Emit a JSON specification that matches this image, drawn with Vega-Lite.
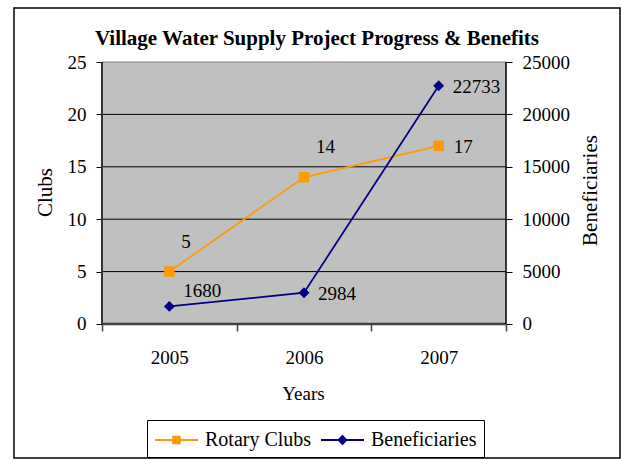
{
  "$schema": "https://vega.github.io/schema/vega-lite/v6.json",
  "width": 606,
  "height": 450,
  "autosize": {"type": "none"},
  "padding": {"left": 14, "top": 8, "right": 3, "bottom": 2},
  "background": "white",
  "config": {
    "font": "Liberation Serif",
    "view": {"stroke": "black", "strokeWidth": 1.5},
    "axis": {
      "labelFont": "Liberation Serif",
      "labelFontSize": 19,
      "labelColor": "black",
      "titleFont": "Liberation Serif",
      "titleFontSize": 21,
      "titleFontWeight": "normal",
      "titleColor": "black"
    },
    "legend": {"labelFont": "Liberation Serif"},
    "text": {"font": "Liberation Serif", "fontSize": 19, "color": "black"}
  },
  "title": {
    "text": "Village Water Supply Project Progress & Benefits",
    "anchor": "middle",
    "frame": "group",
    "offset": -58,
    "baseline": "alphabetic",
    "font": "Liberation Serif",
    "fontSize": 21,
    "fontWeight": "bold",
    "color": "black"
  },
  "datasets": {
    "series": [
      {"year": 2005, "series": "Rotary Clubs", "value": 5},
      {"year": 2006, "series": "Rotary Clubs", "value": 14},
      {"year": 2007, "series": "Rotary Clubs", "value": 17},
      {"year": 2005, "series": "Beneficiaries", "value": 1680},
      {"year": 2006, "series": "Beneficiaries", "value": 2984},
      {"year": 2007, "series": "Beneficiaries", "value": 22733}
    ],
    "grid": [{"g": 5}, {"g": 10}, {"g": 15}, {"g": 20}],
    "one": [{"k": 0}]
  },
  "layer": [
    {
      "layer": [
        {
          "data": {"name": "one"},
          "mark": {"type": "rect", "fill": "#C0C0C0"},
          "encoding": {
            "x": {
              "datum": 2004.5, "type": "quantitative",
              "scale": {"domain": [2003.8465, 2008.3465], "nice": false, "zero": false},
              "axis": {
                "orient": "bottom", "offset": -134,
                "values": [2004.5, 2005.5, 2006.5, 2007.5],
                "labelExpr": "datum.value < 2007 ? '' + (datum.value + 0.5) : ''",
                "labelOffset": 67.33, "labelFlush": false, "labelOverlap": false, "labelBound": false,
                "tickSize": 7, "tickColor": "#404040", "tickWidth": 1.5,
                "domain": false, "grid": false, "labelPadding": 17,
                "title": "Years", "titleFontSize": 19, "titleX": 289, "titleY": 69, "titleBaseline": "middle"
              }
            },
            "x2": {"datum": 2007.5},
            "y": {
              "datum": 0, "type": "quantitative",
              "scale": {"domain": [-12.7863, 30.1527], "nice": false, "zero": false},
              "axis": {
                "orient": "left", "offset": -88,
                "values": [0, 5, 10, 15, 20, 25],
                "domain": false, "grid": false,
                "tickSize": 6, "tickColor": "black", "tickWidth": 1,
                "labelPadding": 10, "labelFlush": false, "labelOverlap": false,
                "title": "Clubs", "titleX": -57, "titleY": 184, "titleBaseline": "middle", "titleAngle": -90
              }
            },
            "y2": {"datum": 25}
          }
        },
        {
          "data": {"name": "grid"},
          "mark": {"type": "rule", "color": "black", "strokeWidth": 1},
          "encoding": {
            "y": {"field": "g", "type": "quantitative"},
            "x": {"datum": 2004.5, "type": "quantitative"},
            "x2": {"datum": 2007.5}
          }
        },
        {
          "data": {"name": "one"},
          "mark": {"type": "rule", "color": "#808080", "strokeWidth": 1},
          "encoding": {
            "y": {"datum": 25, "type": "quantitative"},
            "x": {"datum": 2004.5, "type": "quantitative"},
            "x2": {"datum": 2007.5}
          }
        },
        {
          "data": {"name": "one"},
          "mark": {"type": "rule", "color": "#404040", "strokeWidth": 2.5},
          "encoding": {
            "y": {"datum": 0, "type": "quantitative"},
            "x": {"datum": 2004.5, "type": "quantitative"},
            "x2": {"datum": 2007.5}
          }
        },
        {
          "data": {"name": "one"},
          "mark": {"type": "rule", "color": "#333333", "strokeWidth": 2},
          "encoding": {
            "x": {"datum": 2004.5, "type": "quantitative"},
            "y": {"datum": 0, "type": "quantitative"},
            "y2": {"datum": 25}
          }
        },
        {
          "data": {"name": "one"},
          "mark": {"type": "rule", "color": "black", "strokeWidth": 1.5},
          "encoding": {
            "x": {"datum": 2007.5, "type": "quantitative"},
            "y": {"datum": 0, "type": "quantitative"},
            "y2": {"datum": 25}
          }
        },
        {
          "data": {"name": "series"},
          "transform": [{"filter": "datum.series === 'Rotary Clubs'"}],
          "mark": {"type": "line", "strokeWidth": 1.75},
          "encoding": {
            "x": {"field": "year", "type": "quantitative"},
            "y": {"field": "value", "type": "quantitative"},
            "color": {
              "field": "series", "type": "nominal",
              "scale": {"domain": ["Rotary Clubs", "Beneficiaries"], "range": ["#FF9900", "#000080"]},
              "legend": {
                "orient": "none", "legendX": 133, "legendY": 412,
                "direction": "horizontal", "title": null,
                "padding": 7, "strokeColor": "black", "fillColor": "white",
                "labelFont": "Liberation Serif", "labelFontSize": 20, "labelColor": "black",
                "labelOffset": 25, "columnPadding": 5, "symbolSize": 576, "labelLimit": 300,
                "encode": {
                  "symbols": {
                    "update": {
                      "shape": {"signal": "datum.value === 'Rotary Clubs' ? 'M-1,0L2.583,0M0.52,-0.27L1.06,-0.27L1.06,0.27L0.52,0.27Z' : 'M-1,0L2.583,0M0.79,-0.32L1.11,0L0.79,0.32L0.47,0Z'"},
                      "fill": {"signal": "datum.value === 'Rotary Clubs' ? '#FF9900' : '#000080'"},
                      "stroke": {"signal": "datum.value === 'Rotary Clubs' ? '#FF9900' : '#000080'"},
                      "strokeWidth": {"value": 2},
                      "opacity": {"value": 1}
                    }
                  }
                }
              }
            }
          }
        },
        {
          "data": {"name": "series"},
          "transform": [{"filter": "datum.series === 'Rotary Clubs'"}],
          "mark": {"type": "point", "filled": true, "shape": "square", "size": 110, "opacity": 1},
          "encoding": {
            "x": {"field": "year", "type": "quantitative"},
            "y": {"field": "value", "type": "quantitative"},
            "color": {"field": "series", "type": "nominal"}
          }
        },
        {
          "data": {"name": "series"},
          "transform": [{"filter": "datum.series === 'Rotary Clubs' && datum.year < 2007"}],
          "mark": {"type": "text", "align": "left", "baseline": "middle", "dx": 12, "dy": -30, "font": "Liberation Serif", "fontSize": 19, "color": "black"},
          "encoding": {
            "x": {"field": "year", "type": "quantitative"},
            "y": {"field": "value", "type": "quantitative"},
            "text": {"field": "value", "type": "quantitative", "format": "d"}
          }
        },
        {
          "data": {"name": "series"},
          "transform": [{"filter": "datum.series === 'Rotary Clubs' && datum.year === 2007"}],
          "mark": {"type": "text", "align": "left", "baseline": "middle", "dx": 15, "dy": 1, "font": "Liberation Serif", "fontSize": 19, "color": "black"},
          "encoding": {
            "x": {"field": "year", "type": "quantitative"},
            "y": {"field": "value", "type": "quantitative"},
            "text": {"field": "value", "type": "quantitative", "format": "d"}
          }
        }
      ]
    },
    {
      "layer": [
        {
          "data": {"name": "series"},
          "transform": [{"filter": "datum.series === 'Beneficiaries'"}],
          "mark": {"type": "line", "strokeWidth": 1.75},
          "encoding": {
            "x": {"field": "year", "type": "quantitative"},
            "y": {
              "field": "value", "type": "quantitative",
              "scale": {"domain": [-12786.3, 30152.7], "nice": false, "zero": false},
              "axis": {
                "orient": "right", "offset": -114,
                "values": [0, 5000, 10000, 15000, 20000, 25000], "format": "d",
                "domain": false, "grid": false,
                "tickSize": 6, "tickColor": "black", "tickWidth": 1,
                "labelPadding": 10, "labelFlush": false, "labelOverlap": false,
                "title": "Beneficiaries", "titleAngle": -90, "titleX": 84, "titleY": 182, "titleBaseline": "middle"
              }
            },
            "color": {"field": "series", "type": "nominal"}
          }
        },
        {
          "data": {"name": "series"},
          "transform": [{"filter": "datum.series === 'Beneficiaries'"}],
          "mark": {"type": "point", "filled": true, "shape": "diamond", "size": 120, "opacity": 1},
          "encoding": {
            "x": {"field": "year", "type": "quantitative"},
            "y": {"field": "value", "type": "quantitative"},
            "color": {"field": "series", "type": "nominal"}
          }
        },
        {
          "data": {"name": "series"},
          "transform": [{"filter": "datum.series === 'Beneficiaries' && datum.year === 2005"}],
          "mark": {"type": "text", "align": "left", "baseline": "middle", "dx": 14, "dy": -15, "font": "Liberation Serif", "fontSize": 19, "color": "black"},
          "encoding": {
            "x": {"field": "year", "type": "quantitative"},
            "y": {"field": "value", "type": "quantitative"},
            "text": {"field": "value", "type": "quantitative", "format": "d"}
          }
        },
        {
          "data": {"name": "series"},
          "transform": [{"filter": "datum.series === 'Beneficiaries' && datum.year > 2005"}],
          "mark": {"type": "text", "align": "left", "baseline": "middle", "dx": 14, "dy": 1, "font": "Liberation Serif", "fontSize": 19, "color": "black"},
          "encoding": {
            "x": {"field": "year", "type": "quantitative"},
            "y": {"field": "value", "type": "quantitative"},
            "text": {"field": "value", "type": "quantitative", "format": "d"}
          }
        }
      ]
    }
  ],
  "resolve": {"scale": {"y": "independent"}}
}
